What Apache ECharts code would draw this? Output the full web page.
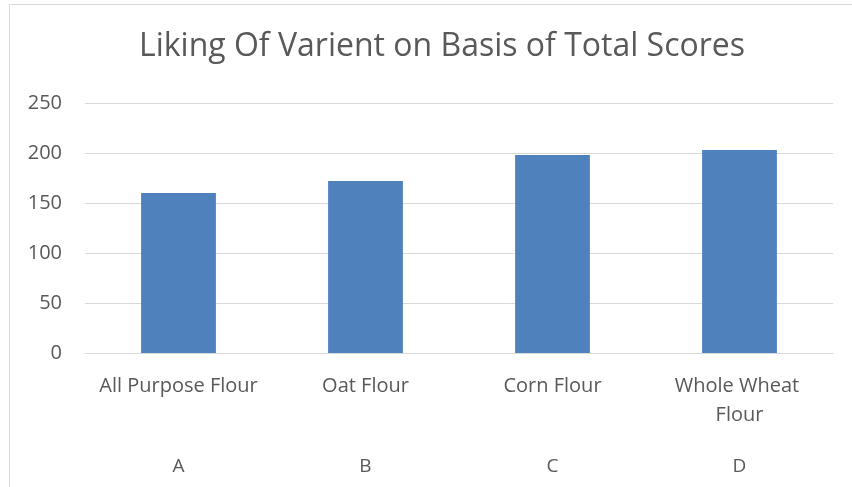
<!DOCTYPE html>
<html>
<head>
<meta charset="utf-8">
<script src="https://cdn.jsdelivr.net/npm/echarts@6/dist/echarts.min.js"></script>
<style>
  html, body { margin: 0; padding: 0; background: #fff; }
  #chart { width: 852px; height: 487px; }
</style>
</head>
<body>
<div id="chart"></div>
<script>
// data
const categories = ["All Purpose Flour", "Oat Flour", "Corn Flour", "Whole Wheat Flour"];
const groupLabels = ["A", "B", "C", "D"];
const totalScores = [160, 172, 198, 203];
const yTicks = { min: 0, max: 250, interval: 50 };

const textColor = "#595959";
const fontFamily = "'Open Sans', sans-serif";

const chart = echarts.init(document.getElementById("chart"));

chart.setOption({
  backgroundColor: "#fff",
  animation: false,
  textStyle: { fontFamily: fontFamily },
  title: {
    text: "Liking Of Varient on Basis of Total Scores",
    left: 437,
    textAlign: "center",
    top: 26,
    textStyle: {
      color: textColor,
      fontSize: 32,
      fontWeight: "normal",
      fontFamily: fontFamily
    }
  },
  // outer chart frame (left and top edge visible)
  graphic: [
    {
      type: "rect",
      shape: { x: 9.5, y: 4.5, width: 900, height: 600 },
      style: { fill: "none", stroke: "#d9d9d9", lineWidth: 1 },
      silent: true
    }
  ],
  grid: {
    left: 85,
    right: 19,
    top: 103,
    bottom: 134
  },
  xAxis: [
    {
      type: "category",
      data: categories,
      axisLine: { lineStyle: { color: "#d9d9d9" } },
      axisTick: { show: false },
      axisLabel: {
        color: textColor,
        fontSize: 20,
        lineHeight: 29,
        margin: 19,
        interval: 0,
        width: 166,
        overflow: "break"
      }
    },
    {
      type: "category",
      position: "bottom",
      offset: 96,
      data: groupLabels,
      axisLine: { show: false },
      axisTick: { show: false },
      axisLabel: {
        color: textColor,
        fontSize: 19,
        interval: 0
      }
    }
  ],
  yAxis: {
    type: "value",
    min: yTicks.min,
    max: yTicks.max,
    interval: yTicks.interval,
    axisLine: { show: false },
    axisTick: { show: false },
    axisLabel: {
      color: textColor,
      fontSize: 20,
      margin: 23
    },
    splitLine: { lineStyle: { color: "#d9d9d9", width: 1 } }
  },
  series: [
    {
      name: "Total Scores",
      type: "bar",
      data: totalScores,
      barWidth: "40%",
      itemStyle: { color: "#4f81bd" }
    }
  ]
});
</script>
</body>
</html>
